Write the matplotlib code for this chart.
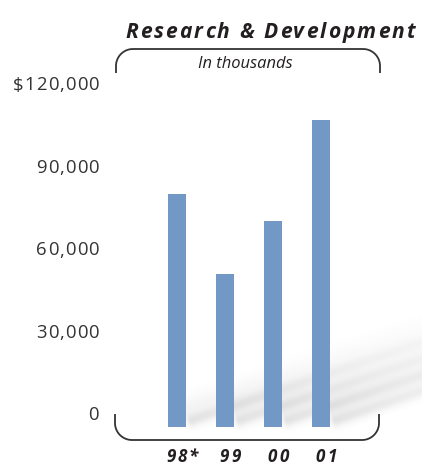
import numpy as np
import matplotlib
matplotlib.use("Agg")
import matplotlib.pyplot as plt
from matplotlib.font_manager import FontProperties, findfont
from matplotlib.ft2font import LoadFlags
from matplotlib.font_manager import get_font

# ---- data ----
categories = ["98*", "99", "00", "01"]
values = [80000, 51000, 70000, 107000]
tick_values = [0, 30000, 60000, 90000, 120000]
tick_labels = ["0", "30,000", "60,000", "90,000", "$120,000"]
title = "Research & Development"
subtitle = "In thousands"

W, H = 422, 469
DPI = 100
BAR_COLOR = "#7299C6"
TEXT = "#231F20"
TICK = "#333333"
FAMILY = "Open Sans"

fig = plt.figure(figsize=(W / DPI, H / DPI), dpi=DPI)

# overlay axes in pixel coordinates (y downward)
ov = fig.add_axes([0, 0, 1, 1], zorder=0)
ov.set_xlim(0, W)
ov.set_ylim(H, 0)
ov.axis("off")

# main axes: data 0 -> y=414px, 120000 -> y=84px ; x centres 177 + 48*i
px_per_val = 330 / 120000
ax_top, ax_bot = 60, 440
ax_left, ax_right = 115, 380
ylo = -(ax_bot - 414) / px_per_val
yhi = 120000 + (84 - ax_top) / px_per_val
xlo = (ax_left - 177) / 48
xhi = (ax_right - 177) / 48
ax = fig.add_axes([ax_left / W, 1 - ax_bot / H, (ax_right - ax_left) / W, (ax_bot - ax_top) / H], zorder=2)
ax.patch.set_alpha(0)
ax.set_xlim(xlo, xhi)
ax.set_ylim(ylo, yhi)
ax.axis("off")

x = np.arange(len(categories))
drop = 13 / px_per_val  # bars sink slightly below the zero line (style)
ax.bar(x, np.array(values) + drop, bottom=-drop, width=18 / 48, color=BAR_COLOR, zorder=3)

fig.canvas.draw()


def to_px(xd, yd):
    X, Y = ax.transData.transform((xd, yd))
    return X, H - Y


# ---- soft diagonal shadows behind bars ----
yy, xx = np.mgrid[0:H, 0:W].astype(float)
alpha = np.zeros((H, W))
d = np.array([1.0, -0.34])
d /= np.linalg.norm(d)
nrm = np.array([-d[1], d[0]])
for i in range(len(categories)):
    bx, by = to_px(x[i] + 0.19, -drop)
    t = (xx - bx) * d[0] + (yy - by) * d[1]
    p = (xx - bx) * nrm[0] + (yy - by) * nrm[1]
    env = np.clip(t / 6, 0, 1) * np.exp(-np.clip(t - 6, 0, None) / 180)
    alpha += 0.19 * env * np.exp(-(p + 5) ** 2 / (2 * 4.5 ** 2))
    alpha += 0.09 * env * np.exp(-(p + 17) ** 2 / (2 * 8.0 ** 2))
alpha = np.clip(alpha, 0, 0.28)
img = np.zeros((H, W, 4))
img[..., :3] = 0.5
img[..., 3] = alpha
ov.imshow(img, extent=[0, W, H, 0], interpolation="bilinear", zorder=0)
ov.set_xlim(0, W)
ov.set_ylim(H, 0)


def advances(s, fp, size_px):
    f = get_font(findfont(fp))
    f.set_size(size_px * 72 / DPI, DPI)
    out = []
    for c in s:
        g = f.load_char(ord(c), flags=LoadFlags.NO_HINTING)
        out.append(g.linearHoriAdvance / 65536)
    return out


def spaced(s, x, y, size_px, tracking=None, width=None, ha="left", color=TEXT,
           weight="normal", style="normal"):
    fp = FontProperties(family=FAMILY, weight=weight, style=style)
    adv = advances(s, fp, size_px)
    if width is not None:
        tracking = (width - sum(adv)) / (len(s) - 1)
    total = sum(adv) + tracking * (len(s) - 1)
    if ha == "center":
        x0 = x - total / 2
    elif ha == "right":
        x0 = x - total
    else:
        x0 = x
    for c, a in zip(s, adv):
        ov.text(x0, y, c, fontproperties=fp, fontsize=size_px * 72 / DPI,
                color=color, ha="left", va="baseline", zorder=5)
        x0 += a + tracking


# title
spaced(title, 125, 38, 21, width=290, weight="bold", style="italic")
# subtitle
ov.text(245, 68, subtitle, family=FAMILY, style="italic", fontsize=16.5 * 0.72,
        color=TEXT, ha="center", va="baseline", zorder=5)

# y tick labels
for v, lab in zip(tick_values, tick_labels):
    _, py = to_px(0, v)
    spaced(lab, 99, py + 6.5, 18.5, tracking=1.0, ha="right", color=TICK)

# x labels
for i, lab in enumerate(categories):
    px, _ = to_px(x[i], 0)
    spaced(lab, px + 5, 462, 17, tracking=2.2, ha="center", weight="bold", style="italic")


# brackets
def bracket(xl, xr, y_end, y_line, r, color="#333333"):
    s = 1 if y_end > y_line else -1  # direction of ends relative to line
    th = np.linspace(0, np.pi / 2, 30)
    lx = xl + r - r * np.cos(th)
    ly = y_line + s * r - s * r * np.sin(th)
    rx = xr - r + r * np.cos(th[::-1])
    ry = y_line + s * r - s * r * np.sin(th[::-1])
    X = np.concatenate([[xl], lx, rx, [xr]])
    Y = np.concatenate([[y_end], ly, ry, [y_end]])
    ov.plot(X, Y, color=color, lw=1.3, solid_capstyle="butt", zorder=4)


bracket(116, 380, 73, 49, 17)
bracket(115, 379, 414, 440, 17)

fig.savefig("out.png", dpi=DPI)
